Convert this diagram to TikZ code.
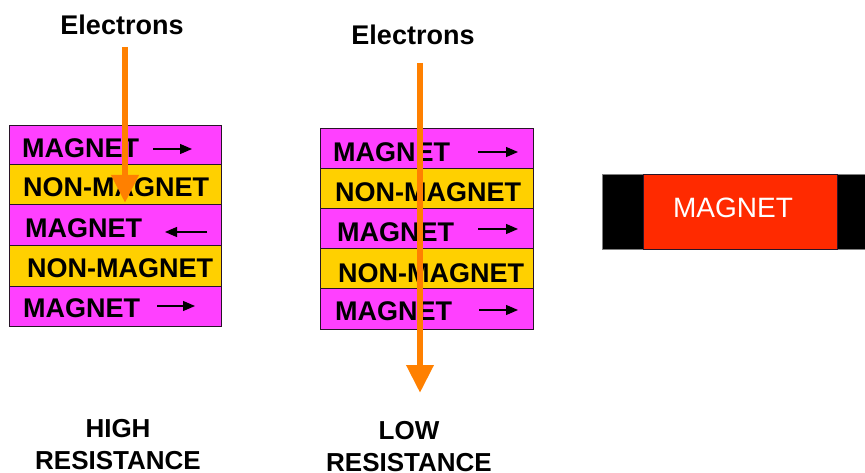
\documentclass[tikz,border=0pt]{standalone}
\usepackage{fontspec}
\setmainfont{Liberation Sans}
\usetikzlibrary{arrows.meta}
\definecolor{magenta1}{RGB}{255,64,255}
\definecolor{yellow1}{RGB}{255,208,0}
\definecolor{orange1}{RGB}{255,128,0}
\definecolor{red1}{RGB}{255,42,0}
\definecolor{edge1}{RGB}{40,20,40}
\tikzset{
  layer/.style={draw=edge1, line width=1.3pt, inner sep=0pt, anchor=north west},
  maglayer/.style={layer, fill=magenta1},
  nonlayer/.style={layer, fill=yellow1},
  lbl/.style={anchor=base west, inner sep=0pt, font=\fontsize{27}{32}\selectfont\bfseries},
  ctr/.style={anchor=base, inner sep=0pt, font=\fontsize{27}{32}\selectfont\bfseries, align=center},
  captext/.style={ctr, font=\fontsize{26}{31}\selectfont\bfseries},
  spin/.style={line width=1.3pt, -{Triangle[length=12pt,width=10pt]}},
  electron/.style={draw=orange1, line width=6.5pt, -{Triangle[length=28pt,width=26pt]}, color=orange1},
}
\begin{document}
\begin{tikzpicture}[x=1pt,y=-1pt]
\useasboundingbox (0,0) rectangle (865,473);

% ---------- left stack ----------
\node[maglayer, minimum width=212pt, minimum height=39pt] (a1) at (9,125) {};
\node[nonlayer, minimum width=212pt, minimum height=40pt] (a2) at (9,164) {};
\node[maglayer, minimum width=212pt, minimum height=41pt] (a3) at (9,204) {};
\node[nonlayer, minimum width=212pt, minimum height=41pt] (a4) at (9,245) {};
\node[maglayer, minimum width=212pt, minimum height=40pt] (a5) at (9,286) {};

\node[lbl] (ta1) at (22,158) {MAGNET};
\node[lbl] (ta2) at (23,197) {NON-MAGNET};
\node[lbl] (ta3) at (25,238) {MAGNET};
\node[lbl] (ta4) at (27,277) {NON-MAGNET};
\node[lbl] (ta5) at (23,317) {MAGNET};

\coordinate (sa1s) at (153,149); \coordinate (sa1e) at (192,149);
\coordinate (sa3s) at (207,232); \coordinate (sa3e) at (165,232);
\coordinate (sa5s) at (157,306); \coordinate (sa5e) at (195,306);
\draw[spin] (sa1s) -- (sa1e);
\draw[spin] (sa3s) -- (sa3e);
\draw[spin] (sa5s) -- (sa5e);

\node[ctr] (ea) at (122,35) {Electrons};
\coordinate (ea0) at (125,47);
\coordinate (ea1) at (125,203);
\draw[electron] (ea0) -- (ea1);

\node[captext] (ha) at (118,437) {HIGH};
\node[captext] (hb) at (118,469) {RESISTANCE};

% ---------- middle stack ----------
\node[maglayer, minimum width=213pt, minimum height=40pt] (b1) at (320,128) {};
\node[nonlayer, minimum width=213pt, minimum height=40pt] (b2) at (320,168) {};
\node[maglayer, minimum width=213pt, minimum height=40pt] (b3) at (320,208) {};
\node[nonlayer, minimum width=213pt, minimum height=40pt] (b4) at (320,248) {};
\node[maglayer, minimum width=213pt, minimum height=41pt] (b5) at (320,288) {};

\node[lbl] (tb1) at (333,162) {MAGNET};
\node[lbl] (tb2) at (335,202) {NON-MAGNET};
\node[lbl] (tb3) at (337,242) {MAGNET};
\node[lbl] (tb4) at (338,282) {NON-MAGNET};
\node[lbl] (tb5) at (335,320) {MAGNET};

\coordinate (sb1s) at (478,152); \coordinate (sb1e) at (518,152);
\coordinate (sb3s) at (478,229); \coordinate (sb3e) at (518,229);
\coordinate (sb5s) at (479,310); \coordinate (sb5e) at (518,310);
\draw[spin] (sb1s) -- (sb1e);
\draw[spin] (sb3s) -- (sb3e);
\draw[spin] (sb5s) -- (sb5e);

\node[ctr] (eb) at (413,45) {Electrons};
\coordinate (eb0) at (420,63);
\coordinate (eb1) at (420,393);
\draw[electron] (eb0) -- (eb1);

\node[captext] (la) at (409,439) {LOW};
\node[captext] (lb) at (409,471) {RESISTANCE};

% ---------- right magnet ----------
\node[draw=gray, line width=1pt, fill=black, inner sep=0pt, anchor=north west,
      minimum width=270pt, minimum height=75pt] (bar) at (602,174) {};
\node[draw=edge1, line width=1pt, fill=red1, inner sep=0pt, anchor=north west,
      minimum width=194pt, minimum height=75pt] (core) at (643,174) {};
\node[ctr, text=white, font=\fontsize{28}{32}\selectfont] (tm) at (733,218) {MAGNET};
\end{tikzpicture}
\end{document}
